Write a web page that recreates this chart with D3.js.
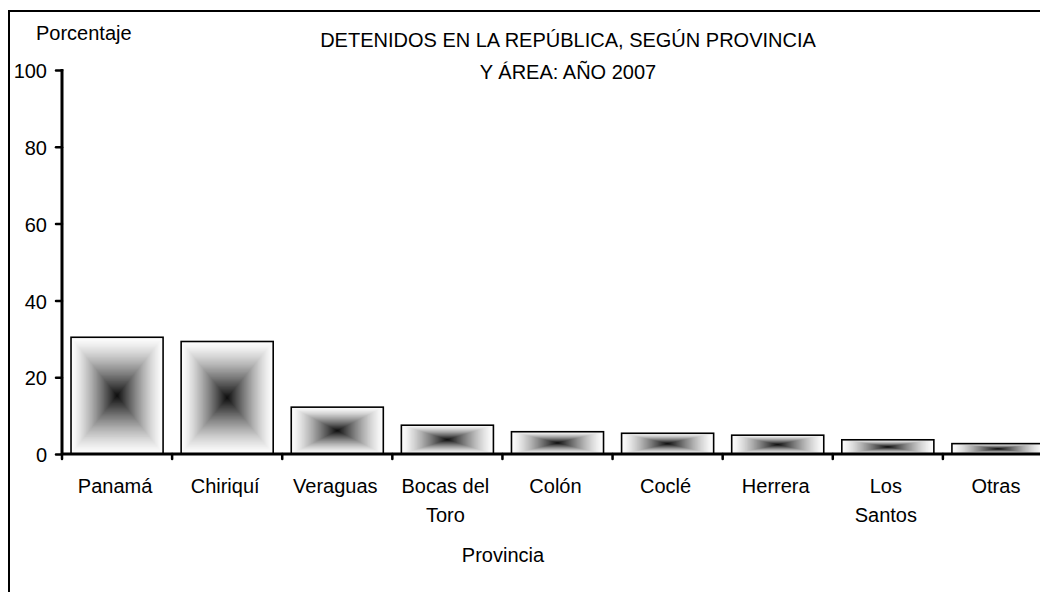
<!DOCTYPE html>
<html>
<head>
<meta charset="utf-8">
<script src="https://cdn.jsdelivr.net/npm/d3@7"></script>
<style>
  html, body { margin: 0; padding: 0; background: #fff; }
  svg { display: block; }
  text { font-family: "Liberation Sans", Arial, sans-serif; fill: #000; }
</style>
</head>
<body>
<svg id="chart" width="1040" height="592"></svg>
<script>
const categories = ["Panamá", "Chiriquí", "Veraguas", "Bocas del Toro", "Colón", "Coclé", "Herrera", "Los Santos", "Otras"];
const categoryLines = [["Panamá"], ["Chiriquí"], ["Veraguas"], ["Bocas del", "Toro"], ["Colón"], ["Coclé"], ["Herrera"], ["Los", "Santos"], ["Otras"]];
const values = [30.4, 29.3, 12.2, 7.5, 5.8, 5.4, 4.9, 3.7, 2.7];
const yTicks = [0, 20, 40, 60, 80, 100];
const titleLines = ["DETENIDOS EN LA REPÚBLICA, SEGÚN PROVINCIA", "Y ÁREA: AÑO 2007"];
const yTitle = "Porcentaje";
const xTitle = "Provincia";

const svg = d3.select("#chart");
const FS = 20;

// outer frame (extends beyond visible area)
svg.append("rect")
  .attr("x", 9).attr("y", 11).attr("width", 1200).attr("height", 800)
  .attr("fill", "none").attr("stroke", "#000").attr("stroke-width", 2);

const x = d3.scaleBand().domain(categories).range([62, 1053])
  .paddingInner(0.164).paddingOuter(0.082);
const y = d3.scaleLinear().domain([0, 100]).range([454, 70]);

// bars with rectangular "from center" gradient
const N = 48;
const shade = d3.interpolateRgb("#fcfcfc", "#111111");
const barG = svg.append("g");
categories.forEach((c, i) => {
  const x0 = x(c), w = x.bandwidth();
  const y0 = y(values[i]), h = y(0) - y(values[i]);
  const g = barG.append("g");
  g.selectAll("rect.layer").data(d3.range(N)).join("rect")
    .attr("class", "layer")
    .attr("x", k => x0 + (k / N) * w / 2)
    .attr("y", k => y0 + (k / N) * h / 2)
    .attr("width", k => w * (1 - k / N))
    .attr("height", k => h * (1 - k / N))
    .attr("fill", k => shade(Math.pow(k / (N - 1), 1.35)));
  g.append("rect")
    .attr("x", x0).attr("y", y0).attr("width", w).attr("height", h)
    .attr("fill", "none").attr("stroke", "#000").attr("stroke-width", 1.6);
});

// y axis
const yAxis = d3.axisLeft(y).tickValues(yTicks).tickSize(6).tickPadding(9);
const gy = svg.append("g").attr("transform", "translate(62,0)").call(yAxis);
gy.select(".domain").remove();
gy.append("line").attr("x1", 0).attr("x2", 0).attr("y1", y(100) - 1).attr("y2", y(0) + 1)
  .attr("stroke", "#000").attr("stroke-width", 3);
gy.selectAll(".tick line").attr("stroke", "#000").attr("stroke-width", 2.5).attr("stroke-linecap", "round");
gy.selectAll(".tick text").attr("font-size", FS).attr("dy", "0.38em")
  .style("font-family", "'Liberation Sans', Arial, sans-serif");

// x axis
const xAxis = d3.axisBottom(x).tickSize(0).tickFormat("");
const gx = svg.append("g").attr("transform", `translate(0,${y(0)})`).call(xAxis);
gx.select(".domain").remove();
gx.append("line").attr("x1", 61).attr("x2", 1060).attr("y1", 0).attr("y2", 0)
  .attr("stroke", "#000").attr("stroke-width", 3);
// ticks at band boundaries
const bounds = categories.map(c => x(c) - x.step() * x.paddingInner() / 2);
gx.selectAll("line.bt").data(bounds).join("line").attr("class", "bt")
  .attr("x1", d => d).attr("x2", d => d).attr("y1", 0).attr("y2", 5)
  .attr("stroke", "#000").attr("stroke-width", 2.5).attr("stroke-linecap", "round");
// labels
categories.forEach((c, i) => {
  const cx = x(c) + x.bandwidth() / 2 - 2;
  const t = svg.append("text").attr("text-anchor", "middle").attr("font-size", FS)
    .attr("x", cx).attr("y", 493);
  categoryLines[i].forEach((ln, j) => {
    t.append("tspan").attr("x", cx).attr("dy", j === 0 ? 0 : 29).text(ln);
  });
});

// titles
titleLines.forEach((ln, i) => {
  svg.append("text").attr("x", 568).attr("y", 47 + i * 32).attr("text-anchor", "middle")
    .attr("font-size", FS).text(ln);
});
svg.append("text").attr("x", 36).attr("y", 40).attr("font-size", FS).text(yTitle);
svg.append("text").attr("x", 503).attr("y", 562).attr("text-anchor", "middle")
  .attr("font-size", FS).text(xTitle);
</script>
</body>
</html>
